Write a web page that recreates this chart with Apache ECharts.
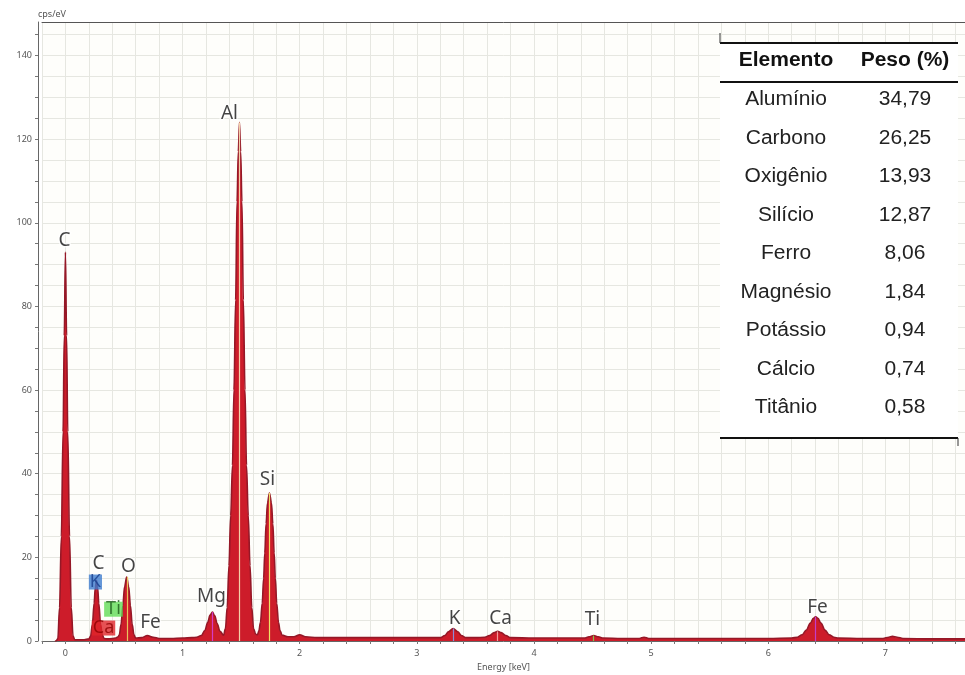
<!DOCTYPE html>
<html>
<head>
<meta charset="utf-8">
<script src="https://cdn.jsdelivr.net/npm/echarts@6/dist/echarts.min.js"></script>
<style>
  html, body { margin: 0; padding: 0; background: #ffffff; }
  #chart { width: 965px; height: 675px; }
</style>
</head>
<body>
<div id="chart"></div>
<script>
// EDS spectrum: energy (keV) and intensity (cps/eV)
const energyKeV = [
  -0.09, -0.08, -0.065, -0.05, -0.035, -0.02, -0.01, 0, 0.01, 0.02, 0.035, 0.05, 0.065, 0.08,
  0.12, 0.16, 0.2, 0.215, 0.23, 0.245, 0.255, 0.265, 0.275, 0.285, 0.3, 0.315, 0.33,
  0.36, 0.4, 0.43, 0.45, 0.46, 0.475, 0.49, 0.505, 0.523, 0.54, 0.555, 0.57, 0.585, 0.6,
  0.65, 0.7, 0.75, 0.8, 0.9, 1.0, 1.08,
  1.12, 1.16, 1.19, 1.215, 1.235, 1.255, 1.275, 1.295, 1.32, 1.35,
  1.366, 1.381, 1.396, 1.411, 1.426, 1.439, 1.453, 1.465, 1.476, 1.486, 1.496, 1.507,
  1.519, 1.533, 1.546, 1.561, 1.576, 1.591, 1.606, 1.625,
  1.64, 1.652, 1.665, 1.68, 1.692, 1.702, 1.713, 1.725, 1.742, 1.759, 1.771, 1.782,
  1.792, 1.804, 1.819, 1.832, 1.85,
  1.9, 1.95, 2.0, 2.05, 2.15, 2.4, 2.7, 3.0, 3.2,
  3.24, 3.27, 3.31, 3.35, 3.38, 3.42, 3.5,
  3.58, 3.62, 3.66, 3.69, 3.72, 3.76, 3.8, 4.0, 4.2,
  4.43, 4.47, 4.51, 4.55, 4.59, 4.75, 4.9, 4.94, 4.98, 5.2, 5.6, 6.0,
  6.2, 6.25, 6.29, 6.325, 6.36, 6.385, 6.405, 6.425, 6.45, 6.485, 6.52, 6.56, 6.6,
  6.8, 6.98, 7.03, 7.06, 7.1, 7.15, 7.4, 7.68
];
const countsPerEV = [
  0, 0, 0.5, 8, 25, 50, 73, 93, 73, 50, 25, 8, 1.2, 0.3,
  0.3, 0.3, 0.5, 1.2, 4, 9, 12.8, 14.5, 12.8, 9, 4, 1.5, 0.6,
  0.5, 0.6, 0.7, 1.0, 1.5, 4, 8.5, 13, 15.3, 13, 8.5, 4, 1.5, 0.7,
  0.8, 1.3, 0.9, 0.6, 0.6, 0.7, 0.8,
  0.9, 1.3, 2.5, 4.5, 6.2, 6.9, 6.0, 4.2, 2.3, 1.4,
  3, 8, 18, 30, 42, 60, 81.5, 105, 117, 124, 117, 105,
  81.5, 60, 42, 30, 18, 8, 3, 1.6,
  1.5, 2.5, 4.5, 9, 15, 21, 28, 33, 35.4, 33, 28, 21,
  15, 9, 4.5, 2.5, 1.4,
  1.0, 1.0, 1.5, 1.0, 0.8, 0.8, 0.8, 0.8, 0.8,
  1.3, 2.2, 3.0, 2.2, 1.3, 0.8, 0.8,
  0.9, 1.3, 2.0, 2.3, 2.0, 1.3, 0.8, 0.7, 0.7,
  0.7, 1.0, 1.3, 1.0, 0.7, 0.6, 0.6, 0.9, 0.6, 0.6, 0.6, 0.6,
  0.7, 0.9, 1.5, 2.6, 4.3, 5.4, 5.8, 5.4, 4.3, 2.6, 1.5, 0.9, 0.7,
  0.6, 0.6, 0.9, 1.1, 0.9, 0.6, 0.5, 0.5
];

// Element identification labels (anchor in keV / cps/eV)
const peakLabelText   = ['C', 'Al', 'Si', 'C', 'K', 'O', 'Ti', 'Ca', 'Fe', 'Mg', 'K', 'Ca', 'Ti', 'Fe'];
const peakLabelEnergy = [-0.008, 1.40, 1.725, 0.282, 0.256, 0.538, 0.41, 0.325, 0.726, 1.247, 3.322, 3.715, 4.50, 6.42];
const peakLabelCps    = [95.8, 126.1, 38.7, 18.6, 14.1, 17.9, 7.6, 3.1, 4.5, 10.5, 5.3, 5.3, 5.0, 8.1];

// Characteristic line markers (keV, height in cps/eV)
const lineMarkerEnergy = [0.525, 1.254, 1.486, 1.740, 3.312, 3.690, 4.510, 6.404];
const lineMarkerCps    = [15.3, 6.9, 124, 35.4, 3.0, 2.3, 1.3, 5.8];

// Composition table
const tableHeader   = ['Elemento', 'Peso (%)'];
const elementNames  = ['Alumínio', 'Carbono', 'Oxigênio', 'Silício', 'Ferro', 'Magnésio', 'Potássio', 'Cálcio', 'Titânio'];
const weightPercent = ['34,79', '26,25', '13,93', '12,87', '8,06', '1,84', '0,94', '0,74', '0,58'];

// Axis settings
const xMin = -0.2, xMax = 7.68, xStep = 0.2;
const yMin = 0, yMax = 148, yStep = 5, yLabelEvery = 20;

const chart = echarts.init(document.getElementById('chart'), null, { renderer: 'canvas' });

const labelFont = "'Noto Sans', 'DejaVu Sans', sans-serif";
const tableFont = "'Liberation Sans', Arial, sans-serif";

// label box styles for the overlapping L-line tags
const boxStyle = {
  4: { backgroundColor: '#3f7dd0', color: '#163d8c', fontSize: 18, padding: [0, 1, 0, 1], lineHeight: 15 },
  6: { backgroundColor: '#62dc58', color: '#1d5a1a', fontSize: 18, padding: [0, 2, 0, 2], lineHeight: 15 },
  7: { backgroundColor: '#e0262a', color: '#8e0000', fontSize: 18, padding: [0, 1, 0, 1], lineHeight: 15 }
};

const markerColors = ['#e9c35e', '#d63cc4', '#f4cfa8', '#efe066', '#8c8cd8', '#f29a9a', '#86c24a', '#c43cc8'];

const labelData = peakLabelText.map((t, i) => {
  const extra = boxStyle[i] || {};
  return {
    name: t,
    value: [peakLabelEnergy[i], peakLabelCps[i]],
    label: Object.assign({
      show: true,
      position: 'inside',
      formatter: t,
      fontFamily: labelFont,
      fontSize: 19,
      color: '#151515',
      textBorderColor: boxStyle[i] ? 'transparent' : 'rgba(255,255,255,0.9)',
      textBorderWidth: boxStyle[i] ? 0 : 3
    }, extra)
  };
});

const markerData = lineMarkerEnergy.map((e, i) => [
  { coord: [e, 0], lineStyle: { color: markerColors[i], width: 1.2, type: 'solid' } },
  { coord: [e, lineMarkerCps[i]] }
]);

// table layout
const tblLeft = 720, tblRight = 958, tblTop = 43, tblHeadLine = 82, tblBottom = 438;
const colElem = 786, colWeight = 905;
const headY = 60, rowY0 = 99.5, rowStep = 38.55;

const tableGraphics = [
  { type: 'rect', shape: { x: tblLeft, y: tblTop, width: tblRight - tblLeft, height: tblBottom - tblTop }, style: { fill: '#ffffff' } },
  { type: 'line', shape: { x1: tblLeft, y1: tblTop, x2: tblRight, y2: tblTop }, style: { stroke: '#111', lineWidth: 2 } },
  { type: 'line', shape: { x1: tblLeft, y1: 33, x2: tblLeft, y2: tblTop }, style: { stroke: '#333', lineWidth: 1 } },
  { type: 'line', shape: { x1: tblLeft, y1: tblHeadLine, x2: tblRight, y2: tblHeadLine }, style: { stroke: '#111', lineWidth: 2 } },
  { type: 'line', shape: { x1: tblLeft, y1: tblBottom, x2: tblRight, y2: tblBottom }, style: { stroke: '#111', lineWidth: 2 } },
  { type: 'line', shape: { x1: tblRight, y1: tblBottom, x2: tblRight, y2: tblBottom + 8 }, style: { stroke: '#333', lineWidth: 1 } },
  { type: 'text', x: colElem, y: headY, scaleX: 1.05, style: { text: tableHeader[0], font: "bold 20px " + tableFont, fill: '#111', align: 'center', verticalAlign: 'middle' } },
  { type: 'text', x: colWeight, y: headY, scaleX: 1.05, style: { text: tableHeader[1], font: "bold 20px " + tableFont, fill: '#111', align: 'center', verticalAlign: 'middle' } }
];
elementNames.forEach((n, i) => {
  const y = rowY0 + i * rowStep;
  tableGraphics.push({ type: 'text', x: colElem, y: y, scaleX: 1.05, style: { text: n, font: "20px " + tableFont, fill: '#222', align: 'center', verticalAlign: 'middle' } });
  tableGraphics.push({ type: 'text', x: colWeight, y: y, scaleX: 1.05, style: { text: weightPercent[i], font: "20px " + tableFont, fill: '#222', align: 'center', verticalAlign: 'middle' } });
});

const isWhole = v => Math.abs(v - Math.round(v)) < 1e-6;

chart.setOption({
  animation: false,
  backgroundColor: '#ffffff',
  grid: {
    left: 42, right: 0, top: 22, bottom: 34,
    containLabel: false,
    outerBoundsMode: 'none',
    show: true,
    backgroundColor: '#fefefb',
    borderWidth: 0
  },
  xAxis: [{
    type: 'value',
    min: xMin, max: xMax, interval: xStep,
    name: 'Energy [keV]',
    nameLocation: 'middle',
    nameGap: 21,
    nameTextStyle: { fontSize: 9, color: '#555', fontFamily: labelFont },
    axisLine: { onZero: false, lineStyle: { color: '#666', width: 1 } },
    axisTick: { show: true, length: 3, lineStyle: { color: '#777' } },
    axisLabel: {
      margin: 8, fontSize: 9, color: '#555', fontFamily: labelFont,
      formatter: v => isWhole(v) ? String(Math.round(v)) : ''
    },
    splitLine: { show: true, lineStyle: { color: '#e6e7e1', width: 1 } }
  }, {
    type: 'value',
    position: 'top',
    min: xMin, max: xMax,
    axisLine: { show: true, onZero: false, lineStyle: { color: '#555', width: 1 } },
    axisTick: { show: false },
    axisLabel: { show: false },
    splitLine: { show: false }
  }],
  yAxis: {
    type: 'value',
    position: 'left',
    min: yMin, max: yMax, interval: yStep,
    offset: 4,
    name: 'cps/eV',
    nameLocation: 'end',
    nameGap: 3,
    nameTextStyle: { fontSize: 9, color: '#555', align: 'left', fontFamily: labelFont },
    axisLine: { show: true, onZero: false, lineStyle: { color: '#666', width: 1 } },
    axisTick: { show: true, length: 3, lineStyle: { color: '#777' } },
    axisLabel: {
      margin: 6, fontSize: 9, color: '#555', fontFamily: labelFont,
      showMaxLabel: false,
      formatter: v => (isWhole(v) && Math.round(v) % yLabelEvery === 0) ? String(Math.round(v)) : ''
    },
    splitLine: { show: true, lineStyle: { color: '#e6e7e1', width: 1 } }
  },
  series: [{
    type: 'line',
    name: 'spectrum',
    data: energyKeV.map((e, i) => [e, countsPerEV[i]]),
    showSymbol: false,
    symbol: 'none',
    smooth: 0.35,
    smoothMonotone: 'x',
    lineStyle: { color: '#951827', width: 1.6 },
    areaStyle: { color: '#cd1c2a', opacity: 1 },
    z: 3,
    markLine: {
      silent: true,
      symbol: ['none', 'none'],
      label: { show: false },
      data: markerData
    }
  }, {
    type: 'scatter',
    name: 'labels',
    data: labelData,
    symbolSize: 1,
    itemStyle: { color: 'rgba(0,0,0,0)' },
    z: 5
  }],
  graphic: { elements: tableGraphics.map(g => Object.assign({ z: 100 }, g)) }
});
</script>
</body>
</html>
